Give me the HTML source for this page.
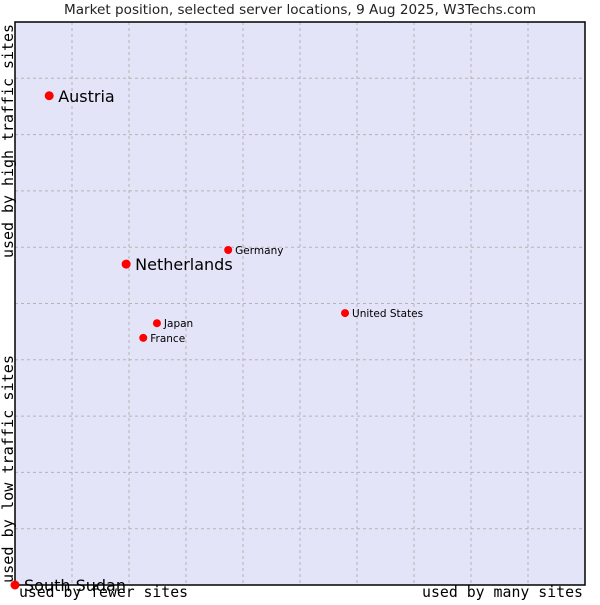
<!DOCTYPE html>
<html><head><meta charset="utf-8"><style>
body{margin:0;background:#fff;}
svg text{font-family:"DejaVu Sans",sans-serif;}
.mono{font-family:"DejaVu Sans Mono","Liberation Mono",monospace;font-size:15px;fill:#000;}
</style></head><body>
<svg id="chart" width="600" height="600" xmlns="http://www.w3.org/2000/svg">
<rect x="0" y="0" width="600" height="600" fill="#fff"/>
<text x="64" y="14" font-size="13.5" fill="#222" textLength="472" lengthAdjust="spacingAndGlyphs">Market position, selected server locations, 9 Aug 2025, W3Techs.com</text>
<rect x="15" y="22" width="570" height="563" fill="#e3e4f8"/>
<g id="grid"></g>
<rect x="15" y="22" width="570" height="563" fill="none" stroke="#000" stroke-width="1.5"/>
<g id="points"></g>
<text class="mono" x="19" y="597" textLength="169" lengthAdjust="spacingAndGlyphs">used by fewer sites</text>
<text class="mono" x="422" y="597" textLength="161" lengthAdjust="spacingAndGlyphs">used by many sites</text>
<text class="mono" transform="translate(13,583) rotate(-90)" textLength="228" lengthAdjust="spacingAndGlyphs">used by low traffic sites</text>
<text class="mono" transform="translate(13,258) rotate(-90)" textLength="234" lengthAdjust="spacingAndGlyphs">used by high traffic sites</text>
</svg>
<script>
const countries=["Austria","Netherlands","Germany","United States","Japan","France","South Sudan"];
const xValues=[6.0,19.5,37.4,57.9,24.9,22.5,0];
const yValues=[86.9,57.0,59.5,48.3,46.5,43.9,0];
const bigLabel=[true,true,false,false,false,false,true];
const gridTicks=[10,20,30,40,50,60,70,80,90];
const NS="http://www.w3.org/2000/svg";
const L=15,R=585,T=22,B=585;
const xs=v=>L+v/100*(R-L), ys=v=>B-v/100*(B-T);
const g=document.getElementById('grid');
gridTicks.forEach(t=>{
  let v=document.createElementNS(NS,'line');
  
  
  v.setAttribute('x1',xs(t));v.setAttribute('x2',xs(t));v.setAttribute('y1',T);v.setAttribute('y2',B);
  v.setAttribute('stroke','#b4b4b4');v.setAttribute('stroke-dasharray','3,3');g.appendChild(v);
  let h=document.createElementNS(NS,'line');
  
  
  h.setAttribute('x1',L);h.setAttribute('x2',R);h.setAttribute('y1',ys(t));h.setAttribute('y2',ys(t));
  h.setAttribute('stroke','#b4b4b4');h.setAttribute('stroke-dasharray','3,3');g.appendChild(h);
});
const p=document.getElementById('points');
countries.forEach((c,i)=>{
  const x=xs(xValues[i]),y=ys(yValues[i]);
  let d=document.createElementNS(NS,'circle');
  
  
  d.setAttribute('cx',x);d.setAttribute('cy',y);d.setAttribute('r',bigLabel[i]?4.5:4);d.setAttribute('fill','#f00');
  p.appendChild(d);
  let t=document.createElementNS(NS,'text');
  
  
  t.setAttribute('x',x+(bigLabel[i]?9:7));t.setAttribute('y',y+(bigLabel[i]?6:4));
  t.setAttribute('font-size',bigLabel[i]?'16':'10.5');t.setAttribute('fill','#000');
  t.textContent=c;p.appendChild(t);
});
</script>
</body></html>
